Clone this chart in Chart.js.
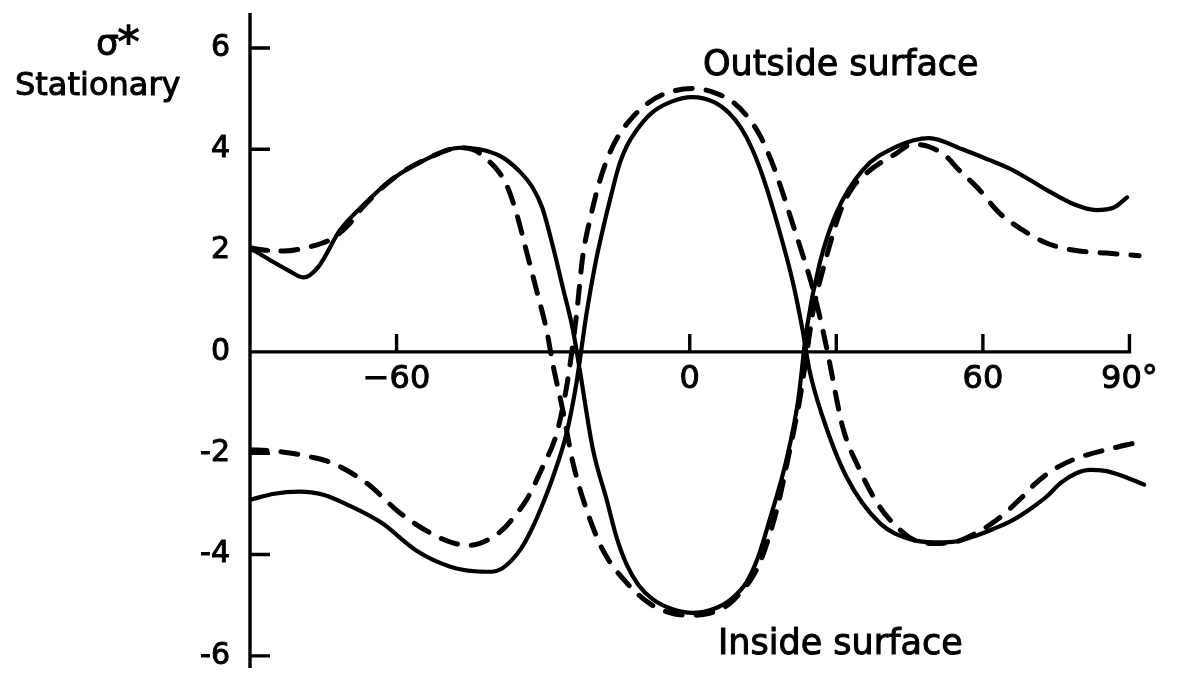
<!DOCTYPE html>
<html>
<head>
<meta charset="utf-8">
<title>Stationary stress distribution</title>
<script src="https://cdn.jsdelivr.net/npm/chart.js@4.4.1/dist/chart.umd.min.js"></script>
<style>
  html, body { margin: 0; padding: 0; background: #ffffff; }
  #wrap { width: 1188px; height: 674px; }
</style>
</head>
<body>
<div id="wrap"><canvas id="chart" width="1188" height="674"></canvas></div>
<script>
// Angular position (degrees) and normalised stress for each curve.
// Solid curve running from the upper left, through the lower trough, to the upper right
const solidAAngle = [-90, -86, -82, -79, -76, -71.6, -67, -61, -54, -47, -43, -38.5, -35, -32.2, -30.2, -28, -26, -23.9, -22.5, -19.8, -17, -15, -12.9, -10.5, -7.6, -3.5, 0.6, 5, 8.5, 11.6, 14, 16.4, 19.8, 22.2, 23.9, 26.6, 30, 35.4, 42.3, 49, 55.8, 61, 66.1, 73, 78.5, 83.2, 86.8, 89.5];
const solidAStress = [2.05, 1.82, 1.6, 1.47, 1.68, 2.4, 2.88, 3.4, 3.8, 4.03, 4.0, 3.85, 3.58, 3.25, 2.85, 2.08, 1.28, 0.43, -0.36, -1.93, -2.92, -3.65, -4.2, -4.6, -4.88, -5.08, -5.15, -5.07, -4.88, -4.55, -4.05, -3.3, -2.13, -0.95, 0.43, 1.75, 2.74, 3.59, 4.05, 4.22, 4.0, 3.8, 3.59, 3.2, 2.92, 2.8, 2.85, 3.05];

// Solid curve running from the lower left, over the central crest, to the lower right
const solidBAngle = [-90, -85, -80, -75, -70, -63, -56, -49, -44, -40.5, -38.5, -36.5, -34.5, -32.5, -30.5, -28, -25.2, -23.2, -21.1, -19.3, -17.8, -16.2, -14.3, -12.8, -11, -8, -4, 0.5, 5, 8, 10.5, 12.8, 15, 18.2, 21.1, 23.1, 24.5, 27.2, 32.1, 38.9, 45.6, 50, 53.8, 57.9, 62, 66.1, 70, 73, 76, 79, 82, 85, 88, 93];
const solidBStress = [-2.92, -2.8, -2.76, -2.82, -3.02, -3.38, -3.92, -4.24, -4.33, -4.34, -4.28, -4.12, -3.88, -3.53, -3.1, -2.47, -1.6, -0.62, 0.77, 1.75, 2.41, 3.05, 3.73, 4.08, 4.36, 4.7, 4.93, 5.03, 4.93, 4.72, 4.42, 4.0, 3.45, 2.44, 1.38, 0.43, -0.36, -1.28, -2.47, -3.38, -3.71, -3.76, -3.75, -3.65, -3.5, -3.32, -3.08, -2.86, -2.58, -2.4, -2.33, -2.35, -2.43, -2.62];

// Dashed curve running from the upper left, through the lower trough, to the upper right
const dashedAAngle = [-90, -86, -83, -78.4, -73.7, -70.2, -67, -61, -54, -47, -44, -41.5, -39.3, -37.5, -35.5, -33.4, -31.3, -29.3, -27.9, -26, -23.9, -21.1, -17.8, -12.9, -8, -4, 0, 4, 8, 11, 13, 15, 17.8, 20.5, 22.5, 24, 25.2, 28, 30.7, 33, 36.2, 42.3, 45.6, 49, 52.6, 55, 58.7, 63.4, 68.1, 73, 78.4, 85.3, 92];
const dashedAStress = [2.05, 2.0, 1.99, 2.06, 2.21, 2.47, 2.85, 3.4, 3.8, 4.03, 3.98, 3.8, 3.58, 3.3, 2.75, 1.98, 1.2, 0.43, -0.3, -1.14, -2.19, -3.12, -3.91, -4.56, -4.98, -5.15, -5.2, -5.16, -4.98, -4.68, -4.42, -4.0, -3.12, -1.93, -0.95, 0, 0.77, 1.88, 2.74, 3.2, 3.53, 3.92, 4.1, 4.05, 3.85, 3.6, 3.26, 2.74, 2.41, 2.15, 2.01, 1.95, 1.9];

// Dashed curve running from the lower left, over the central crest, to the lower right
const dashedBAngle = [-90, -86, -83, -77.7, -73, -66, -59.3, -52.6, -48.5, -45, -41.5, -38.3, -35.5, -33.4, -30.1, -27.2, -25.4, -24.2, -23.1, -21.9, -20.2, -18.4, -16.5, -14.5, -12, -9, -5, 0.6, 5, 9, 12, 14.5, 16.8, 19, 21, 23, 25.2, 27.2, 28.6, 31.3, 34.8, 38.9, 43, 45.6, 50, 54, 57.5, 62.8, 68.1, 70.5, 73, 76, 79.8, 86.6, 91];
const dashedBStress = [-1.93, -1.95, -1.98, -2.07, -2.2, -2.6, -3.18, -3.6, -3.77, -3.82, -3.72, -3.51, -3.2, -2.92, -2.27, -1.6, -0.8, -0.05, 0.8, 1.88, 2.7, 3.38, 3.9, 4.28, 4.6, 4.88, 5.1, 5.2, 5.12, 4.92, 4.62, 4.25, 3.75, 3.15, 2.55, 1.95, 1.25, 0.45, -0.2, -1.48, -2.33, -3.06, -3.51, -3.7, -3.78, -3.76, -3.63, -3.32, -2.86, -2.62, -2.42, -2.24, -2.08, -1.9, -1.8];

// Axis ticks and their labels
const yTickValues = [-6, -4, -2, 0, 2, 4, 6];
const yTickLabels = ['-6', '-4', '-2', '0', '2', '4', '6'];
const xTickValues = [-60, 0, 60, 90];
const xTickLabels = ['\u221260', '0', '60', '90\u00b0'];
const xTickMarks = [-60, 0, 30, 60, 90];

const FONT = "'DejaVu Sans', 'Liberation Sans', sans-serif";

function toPoints(angles, values) {
  return angles.map((a, i) => ({ x: a, y: values[i] }));
}

// Draws text slightly heavier by outlining it in the fill colour
function heavyText(ctx, text, x, y) {
  ctx.strokeText(text, x, y);
  ctx.fillText(text, x, y);
}

// Axis lines, inward tick marks and the text annotations
const drawingPlugin = {
  id: 'axesAndNotes',
  beforeDatasetsDraw(chart) {
    const { ctx, chartArea } = chart;
    const xs = chart.scales.x, ys = chart.scales.y;
    const x0 = xs.getPixelForValue(-90);
    const y0 = ys.getPixelForValue(0);
    ctx.save();
    ctx.strokeStyle = '#000';
    ctx.lineWidth = 3.4;
    ctx.lineCap = 'butt';
    ctx.beginPath();
    ctx.moveTo(x0, chartArea.top);
    ctx.lineTo(x0, chartArea.bottom);
    ctx.moveTo(x0, y0);
    ctx.lineTo(xs.getPixelForValue(90) + 1.7, y0);
    yTickValues.forEach(v => {
      if (v === 0) return;
      const py = ys.getPixelForValue(v);
      ctx.moveTo(x0, py);
      ctx.lineTo(x0 + 20, py);
    });
    xTickMarks.forEach(v => {
      const px = xs.getPixelForValue(v);
      ctx.moveTo(px, y0);
      ctx.lineTo(px, y0 - 18);
    });
    ctx.stroke();
    ctx.restore();
  },
  afterDraw(chart) {
    const { ctx } = chart;
    ctx.save();
    ctx.fillStyle = '#000';
    ctx.strokeStyle = '#000';
    ctx.lineWidth = 1;
    ctx.lineJoin = 'round';
    ctx.textBaseline = 'alphabetic';
    ctx.textAlign = 'left';
    ctx.font = '36px ' + FONT;
    heavyText(ctx, '\u03c3', 96, 55);
    ctx.font = 'bold 44px ' + FONT;
    ctx.fillText('*', 117, 57);
    ctx.font = '32px ' + FONT;
    heavyText(ctx, 'Stationary', 15, 95);
    ctx.font = '35px ' + FONT;
    heavyText(ctx, 'Outside surface', 703, 75);
    heavyText(ctx, 'Inside surface', 718, 654);
    ctx.restore();
  }
};

const solidStyle = {
  borderColor: '#000',
  borderWidth: 4.2,
  pointRadius: 0,
  cubicInterpolationMode: 'monotone',
  borderCapStyle: 'round',
  borderJoinStyle: 'round',
  fill: false
};
const dashedStyle = Object.assign({}, solidStyle, {
  borderWidth: 5,
  borderDash: [17, 14]
});

new Chart(document.getElementById('chart'), {
  type: 'line',
  data: {
    datasets: [
      Object.assign({ label: 'solid A', data: toPoints(solidAAngle, solidAStress) }, solidStyle),
      Object.assign({ label: 'solid B', data: toPoints(solidBAngle, solidBStress) }, solidStyle),
      Object.assign({ label: 'dashed A', data: toPoints(dashedAAngle, dashedAStress) }, dashedStyle),
      Object.assign({ label: 'dashed B', data: toPoints(dashedBAngle, dashedBStress) }, dashedStyle)
    ]
  },
  options: {
    responsive: false,
    animation: false,
    devicePixelRatio: 1,
    layout: { padding: { left: 0, right: 39, top: 13, bottom: 6 } },
    plugins: { legend: { display: false }, tooltip: { enabled: false } },
    scales: {
      x: {
        type: 'linear',
        min: -90,
        max: 94,
        position: { y: 0 },
        grid: { display: false, drawTicks: false },
        border: { display: false },
        afterBuildTicks: (scale) => { scale.ticks = xTickValues.map(v => ({ value: v })); },
        afterFit: (scale) => { scale.paddingLeft = 0; scale.paddingRight = 0; },
        ticks: {
          autoSkip: false,
          maxRotation: 0,
          padding: 9,
          color: '#000',
          textStrokeColor: '#000',
          textStrokeWidth: 1,
          font: { family: FONT, size: 32 },
          callback: (v) => xTickLabels[xTickValues.indexOf(v)]
        }
      },
      y: {
        type: 'linear',
        min: -6.24,
        max: 6.69,
        position: 'left',
        grid: { display: false, drawTicks: false },
        border: { display: false },
        afterBuildTicks: (scale) => { scale.ticks = yTickValues.map(v => ({ value: v })); },
        afterFit: (scale) => { scale.width = 250; scale.paddingTop = 0; scale.paddingBottom = 0; },
        ticks: {
          autoSkip: false,
          padding: 20,
          color: '#000',
          textStrokeColor: '#000',
          textStrokeWidth: 1,
          font: { family: FONT, size: 30 },
          callback: (v) => yTickLabels[yTickValues.indexOf(v)]
        }
      }
    }
  },
  plugins: [drawingPlugin]
});
</script>
</body>
</html>
